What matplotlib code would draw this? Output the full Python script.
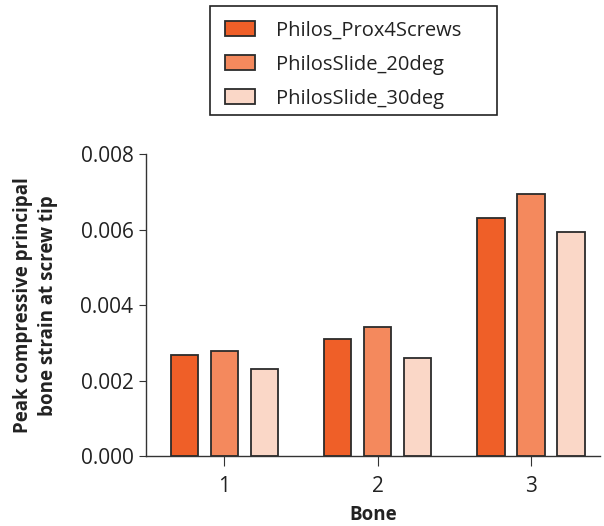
import numpy as np
import matplotlib
matplotlib.use("Agg")
from matplotlib import pyplot as plt
from matplotlib.patches import Rectangle

plt.rcParams['font.family'] = ['Open Sans', 'DejaVu Sans']

bones = [1, 2, 3]
series = ["Philos_Prox4Screws", "PhilosSlide_20deg", "PhilosSlide_30deg"]
prox4 = [0.00269, 0.00311, 0.00630]
slide20 = [0.00280, 0.00342, 0.00693]
slide30 = [0.00231, 0.00260, 0.00593]
colors = ["#EF5F28", "#F4895D", "#FAD7C7"]

fig = plt.figure(figsize=(6.04, 5.26), dpi=100)
ax = fig.add_axes([0.2417, 0.1325, 0.7517, 0.5747])

x = np.array(bones, dtype=float)
step = 0.261
w = 0.178
for i, (vals, name) in enumerate(zip([prox4, slide20, slide30], series)):
    ax.bar(x + (i - 1) * step, vals, width=w, color=colors[i],
           edgecolor="#2b2b2b", linewidth=1.3, label=name)

ax.set_xlim(0.489, 3.45)
ax.set_ylim(0, 0.008)
ax.set_yticks([0, 0.002, 0.004, 0.006, 0.008])
ax.set_yticklabels(["0.000", "0.002", "0.004", "0.006", "0.008"])
ax.set_xticks(bones)
ax.set_xticklabels([str(b) for b in bones])

for s in ["top", "right"]:
    ax.spines[s].set_visible(False)
for s in ["left", "bottom"]:
    ax.spines[s].set_color("#333333")
    ax.spines[s].set_linewidth(1.0)

ax.tick_params(axis="both", direction="out", colors="#333333", labelcolor="#222222",
               labelsize=15)
ax.tick_params(axis="y", length=5, pad=4)
ax.tick_params(axis="x", length=7, pad=7)

ax.set_xlabel("Bone", fontsize=13.5, fontweight="bold", color="#222222", labelpad=6)
ax.set_ylabel("Peak compressive principal\nbone strain at screw tip", fontsize=13.5,
              fontweight="bold", color="#222222", labelpad=16, linespacing=1.35)

# legend box drawn separately (wider than its contents in the original)
fig.patches.append(Rectangle((0.3477, 0.7814), 0.4752, 0.2072, transform=fig.transFigure,
                             fill=False, edgecolor="#222222", linewidth=1.2))
leg = fig.legend(loc="upper left", bbox_to_anchor=(0.3725, 0.961), frameon=False,
                 fontsize=14.5, handlelength=1.5, handleheight=0.75, handletextpad=1.05,
                 borderpad=0, labelspacing=0.7, borderaxespad=0)
for t in leg.get_texts():
    t.set_color("#222222")

fig.savefig("out.png", dpi=100)
